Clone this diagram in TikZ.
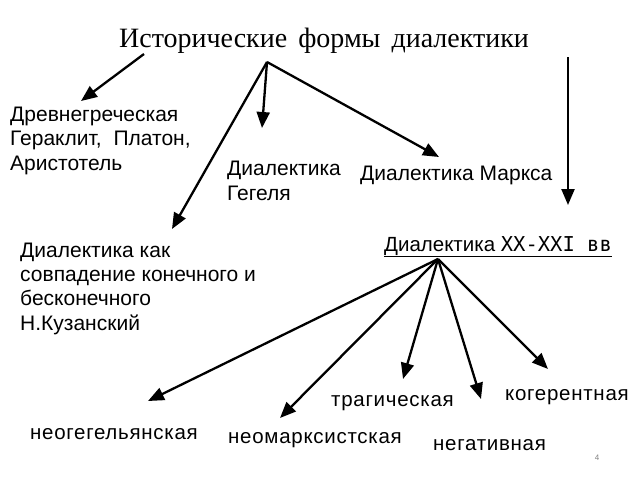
\documentclass[tikz,border=0pt]{standalone}
\usepackage{fontspec}
\setmainfont{Liberation Sans}
\newfontfamily\titlefont{Liberation Serif}
\newfontfamily\monofont{DejaVu Sans Mono}
\newfontfamily\spacedfont[LetterSpace=3.5]{Liberation Sans}
\usetikzlibrary{arrows.meta}
\begin{document}
\begin{tikzpicture}[x=1pt,y=-1pt,
  arr/.style={line width=2.3pt,-{Triangle[length=16pt,width=13pt]}},
  lbl/.style={anchor=base west,inner sep=0pt,font=\fontsize{21}{24.3}\selectfont,align=left},
  lowlbl/.style={anchor=base west,inner sep=0pt,font=\spacedfont\fontsize{20.5}{24.3}\selectfont}]
\useasboundingbox (0,0) rectangle (640,480);
\node[anchor=base,inner sep=0pt,font=\titlefont\fontsize{28}{30}\selectfont] (title) at (324,47) {Исторические\hspace{4pt} формы\hspace{4pt} диалектики};
\coordinate (r1) at (267,62);
\coordinate (s1) at (144,54);
\coordinate (s2) at (568,57);
\coordinate (r2) at (438,259);
\coordinate (t1) at (81,101);
\coordinate (t2) at (262,128);
\coordinate (t3) at (439,157);
\coordinate (t4) at (172,229);
\coordinate (t5) at (568,205);
\coordinate (u1) at (148,401);
\coordinate (u2) at (280,418);
\coordinate (u3) at (403,379);
\coordinate (u4) at (481,399);
\coordinate (u5) at (548,369);
\node[lbl] (greek) at (10,170) {Древнегреческая\\Гераклит,\hspace{6pt} Платон,\\Аристотель};
\node[lbl] (hegel) at (227,200) {Диалектика\\Гегеля};
\node[lbl] (marx) at (360,180) {Диалектика Маркса};
\node[lbl] (kuz) at (20,330) {Диалектика как\\совпадение конечного и\\бесконечного\\Н.Кузанский};
\node[lbl,font=\fontsize{20.5}{24}\selectfont] (xx) at (384,251) {\underline{Диалектика {\monofont XX-XXI вв}}};
\node[lowlbl] (n1) at (30,439) {неогегельянская};
\node[lowlbl] (n2) at (228,443) {неомарксистская};
\node[lowlbl] (n3) at (331,406) {трагическая};
\node[lowlbl] (n4) at (433,450) {негативная};
\node[lowlbl] (n5) at (505,400) {когерентная};
\node[anchor=base,inner sep=0pt,text=gray,font=\fontsize{8}{9}\selectfont] (num) at (597,460) {4};
\draw[arr] (s1) -- (t1);
\draw[arr] (r1) -- (t2);
\draw[arr] (r1) -- (t3);
\draw[arr] (r1) -- (t4);
\draw[arr] (s2) -- (t5);
\draw[arr] (r2) -- (u1);
\draw[arr] (r2) -- (u2);
\draw[arr] (r2) -- (u3);
\draw[arr] (r2) -- (u4);
\draw[arr] (r2) -- (u5);
\end{tikzpicture}
\end{document}
